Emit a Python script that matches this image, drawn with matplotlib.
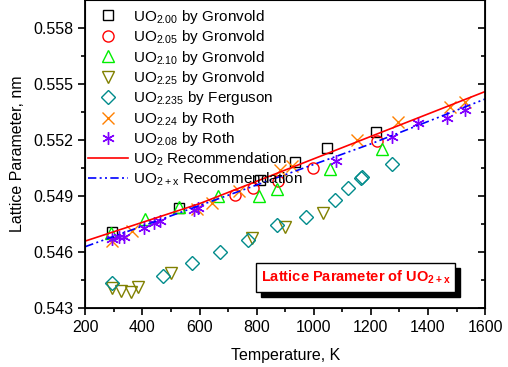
import numpy as np
import matplotlib
matplotlib.use('Agg')
import matplotlib.pyplot as plt
from matplotlib.patches import Rectangle

plt.rcParams['font.family'] = ['Liberation Sans', 'DejaVu Sans']
plt.rcParams['mathtext.default'] = 'regular'

# UO2.00 by Gronvold
T200 = [292, 528, 812, 934, 1047, 1218]
a200 = [0.54710, 0.54838, 0.54986, 0.55084, 0.55156, 0.55244]
# UO2.05 by Gronvold
T205 = [724, 788, 876, 996, 1222]
a205 = [0.54906, 0.54942, 0.54980, 0.55049, 0.55195]
# UO2.10 by Gronvold
T210 = [290, 408, 529, 665, 809, 870, 1057, 1238]
a210 = [0.54701, 0.54776, 0.54843, 0.54900, 0.54901, 0.54938, 0.55043, 0.55152]
# UO2.25 by Gronvold
T225 = [292, 325, 359, 385, 500, 782, 899, 1031]
a225 = [0.54407, 0.54394, 0.54389, 0.54412, 0.54490, 0.54674, 0.54733, 0.54811]
# UO2.235 by Ferguson
T2235 = [292, 473, 572, 671, 770, 872, 973, 1074, 1121, 1165, 1170, 1273]
a2235 = [0.54434, 0.54474, 0.54541, 0.54603, 0.54665, 0.54745, 0.54790, 0.54879,
         0.54942, 0.54995, 0.55002, 0.55072]
# UO2.24 by Roth
T224 = [292, 362, 590, 645, 738, 882, 922, 1150, 1296, 1477, 1530]
a224 = [0.54660, 0.54715, 0.54830, 0.54862, 0.54928, 0.55040, 0.55062, 0.55200,
        0.55298, 0.55378, 0.55405]
# UO2.08 by Roth
T208 = [292, 318, 336, 406, 441, 462, 580, 595, 1078, 1273, 1366, 1466, 1530]
a208 = [0.54669, 0.54680, 0.54683, 0.54728, 0.54755, 0.54767, 0.54826, 0.54835,
        0.55089, 0.55218, 0.55289, 0.55321, 0.55360]

# recommendation curves
Trec = [200, 400, 600, 800, 1000, 1200, 1400, 1600]
a_uo2 = [0.5466, 0.5476, 0.5486, 0.5498, 0.5510, 0.5522, 0.5534, 0.5546]
a_uo2x = [0.5463, 0.5474, 0.5485, 0.5496, 0.5507, 0.5518, 0.5530, 0.5542]

fig = plt.figure(figsize=(5.08, 3.67), dpi=100)
ax = fig.add_axes([0.168, 0.16, 0.787, 0.84])

mk = dict(linestyle='none', markerfacecolor='none', markeredgewidth=1.0)
ax.plot(T200, a200, marker='s', ms=7.5, color='black', label='UO$_{2.00}$ by Gronvold', **mk)
ax.plot(T205, a205, marker='o', ms=8, color='#FF0000', label='UO$_{2.05}$ by Gronvold', **mk)
ax.plot(T210, a210, marker='^', ms=9, color='#00EE00', label='UO$_{2.10}$ by Gronvold', **mk)
ax.plot(T225, a225, marker='v', ms=9, color='#808000', label='UO$_{2.25}$ by Gronvold', **mk)
ax.plot(T2235, a2235, marker='D', ms=7, color='#008B8B', label='UO$_{2.235}$ by Ferguson', **mk)
ax.plot(T224, a224, marker='x', ms=9, color='#FF8000', label='UO$_{2.24}$ by Roth', **mk)
ax.plot(T208, a208, marker=(6, 2, 0), ms=9, color='#8000FF', label='UO$_{2.08}$ by Roth', **mk)
ax.plot(Trec, a_uo2, '-', color='#FF0000', lw=1.2, label='UO$_2$ Recommendation')
ax.plot(Trec, a_uo2x, color='#0000FF', lw=1.2, dashes=(5, 2, 1.2, 2, 1.2, 2),
        label='UO$_{2+x}$ Recommendation')

ax.set_xlim(200, 1600)
ax.set_ylim(0.543, 0.5595)
ax.set_xticks(np.arange(200, 1601, 200))
ax.set_xticks(np.arange(300, 1600, 200), minor=True)
ax.set_yticks([0.543, 0.546, 0.549, 0.552, 0.555, 0.558])
ax.set_yticks([0.5445, 0.5475, 0.5505, 0.5535, 0.5565], minor=True)
ax.set_yticklabels(['0.543', '0.546', '0.549', '0.552', '0.555', '0.558'])
ax.tick_params(axis='both', which='major', direction='out', length=5, width=1.2, labelsize=11.5)
ax.tick_params(axis='both', which='minor', direction='out', length=3, width=1.2)
for s in ax.spines.values():
    s.set_linewidth(1.3)

# right-side ticks pointing in
ax2 = ax.twinx()
ax2.set_ylim(ax.get_ylim())
ax2.set_yticks(ax.get_yticks())
ax2.set_yticks([0.5445, 0.5475, 0.5505, 0.5535, 0.5565], minor=True)
ax2.tick_params(axis='y', which='major', direction='in', length=5, width=1.2, labelright=False)
ax2.tick_params(axis='y', which='minor', direction='in', length=3, width=1.2)

ax.set_xlabel('Temperature, K', fontsize=11.5, labelpad=9)
ax.set_ylabel('Lattice Parameter, nm', fontsize=11.5, labelpad=6)

ax.legend(loc='upper left', bbox_to_anchor=(0.0, 0.985), frameon=False, fontsize=11,
          handlelength=2.6, handletextpad=0.3, labelspacing=0.16, borderpad=0.2,
          borderaxespad=0.0)

# title box with shadow
ax2.add_patch(Rectangle((0.4393, 0.0376), 0.4982, 0.094, transform=ax.transAxes,
                        facecolor='black', edgecolor='black', zorder=5))
ax2.add_patch(Rectangle((0.4268, 0.0538), 0.4982, 0.094, transform=ax.transAxes,
                        facecolor='white', edgecolor='black', lw=1.0, zorder=6))
ax2.text(0.676, 0.1007, 'Lattice Parameter of UO$_{2+x}$', transform=ax.transAxes,
         color='#FF0000', fontsize=10.5, fontweight='bold', ha='center', va='center', zorder=7)

fig.savefig('out.png', dpi=100)
